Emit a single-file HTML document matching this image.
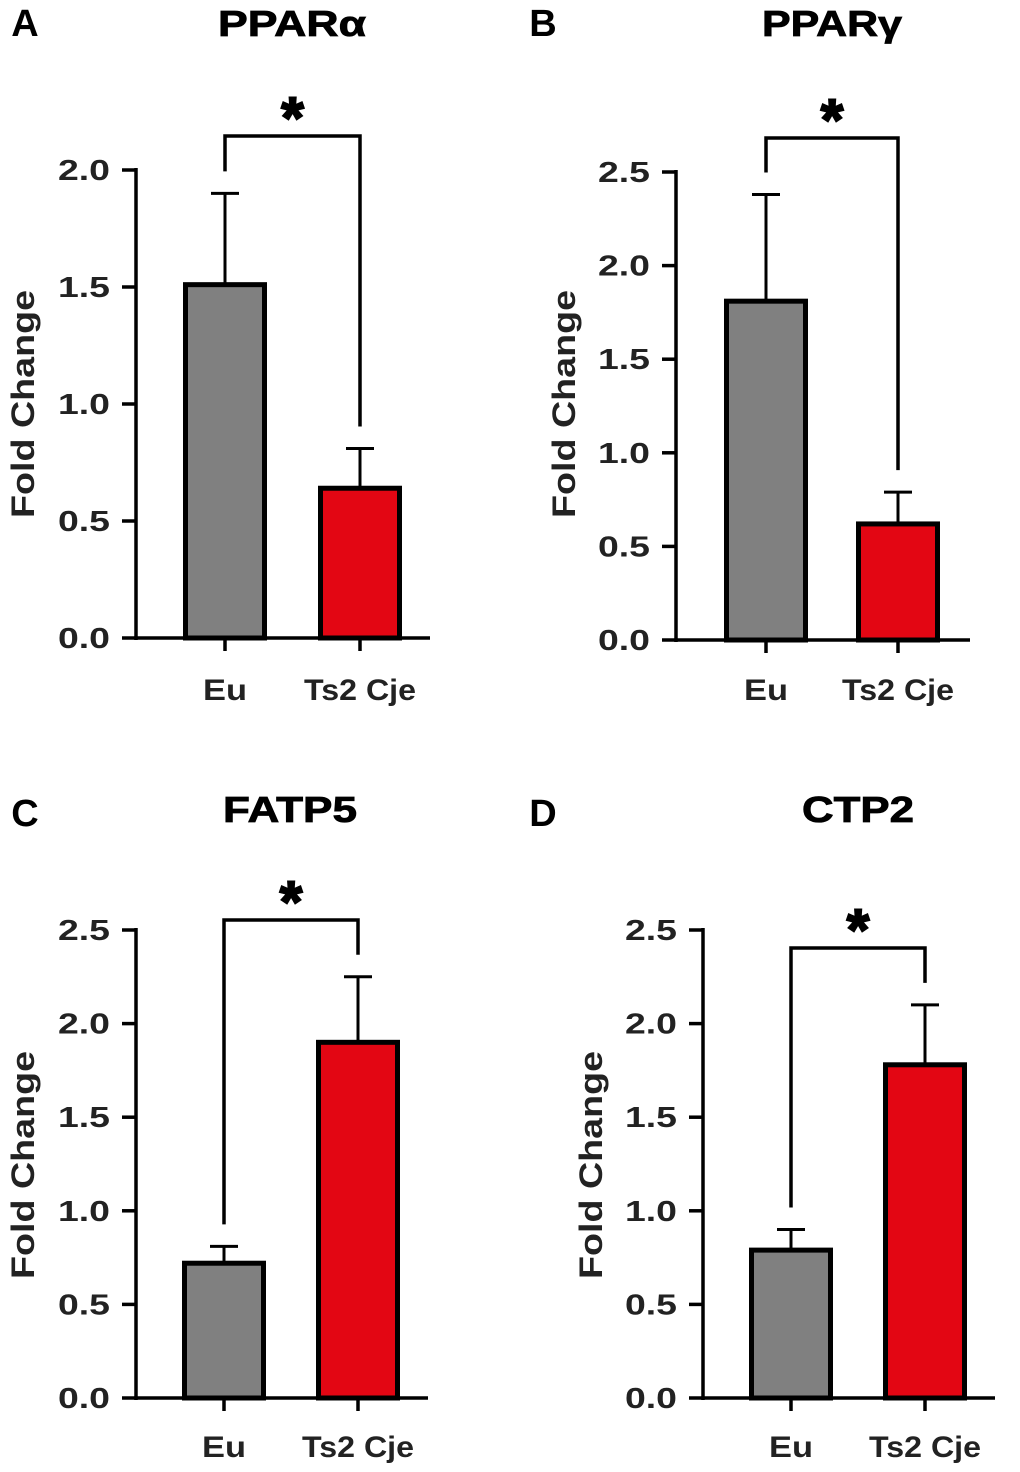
<!DOCTYPE html>
<html><head><meta charset="utf-8">
<style>
html,body{margin:0;padding:0;background:#fff;}
svg{display:block;font-family:"Liberation Sans",Arial,sans-serif;}
</style></head>
<body>
<svg id="fig" width="1020" height="1472" viewBox="0 0 1020 1472"></svg>
<script>
const categories = ["Eu", "Ts2Cje"];
const panelTitles = ["PPARα", "PPARγ", "FATP5", "CTP2"];
const panelLetters = ["A", "B", "C", "D"];
const meanValues = [[1.51, 0.64], [1.81, 0.62], [0.72, 1.90], [0.79, 1.78]];
const errorValues = [[0.39, 0.17], [0.57, 0.17], [0.09, 0.35], [0.11, 0.32]];
const yMaxValues = [2.0, 2.5, 2.5, 2.5];
const tickLabels = [["0.0","0.5","1.0","1.5","2.0"],["0.0","0.5","1.0","1.5","2.0","2.5"],["0.0","0.5","1.0","1.5","2.0","2.5"],["0.0","0.5","1.0","1.5","2.0","2.5"]];
const significance = ["*", "*", "*", "*"];

const layout = [
 {ax:136, y0:638, yTop:170, xEnd:430, c:[225,360], bw:84, bracketY:136, lx:22, ly:404, letterX:25, letterY:36, titleX:292, titleY:36, catY:700, titleW:148},
 {ax:676, y0:640, yTop:172, xEnd:970, c:[766,898], bw:84, bracketY:138, lx:563, ly:404, letterX:543, letterY:36, titleX:832, titleY:36, catY:700, titleW:140},
 {ax:136, y0:1398, yTop:930, xEnd:428, c:[224,358], bw:84, bracketY:920, lx:22, ly:1165, letterX:25, letterY:826, titleX:290, titleY:822, catY:1457, titleW:134},
 {ax:703, y0:1398, yTop:930, xEnd:995, c:[791,925], bw:84, bracketY:948, lx:590, ly:1165, letterX:543, letterY:826, titleX:858, titleY:822, catY:1457, titleW:112}
];
const fills = ["#808080", "#e30613"];
const NS = "http://www.w3.org/2000/svg";
const svg = document.getElementById("fig");
function mk(tag, attrs, parent){const e=document.createElementNS(NS,tag);for(const k in attrs)e.setAttribute(k,attrs[k]);(parent||svg).appendChild(e);return e;}

layout.forEach((L, p) => {
  const g = mk("g", {});
  
  
  const y = v => L.y0 - (v / yMaxValues[p]) * (L.y0 - L.yTop);

  const letter = mk("text", {x:L.letterX, y:L.letterY, "font-size":38, "font-weight":"bold", "text-anchor":"middle"}, g);
  letter.textContent = panelLetters[p];
  
  
  const title = mk("text", {x:L.titleX, y:L.titleY, "font-size":36, "font-weight":"bold", "text-anchor":"middle", textLength:L.titleW, lengthAdjust:"spacingAndGlyphs", stroke:"#000", "stroke-width":0.8}, g);
  title.textContent = panelTitles[p];
  
  

  const yax = mk("line", {x1:L.ax, y1:L.yTop-2, x2:L.ax, y2:L.y0+2, stroke:"#000", "stroke-width":3.5}, g);
  
  
  tickLabels[p].forEach(t => {
    const ty = y(parseFloat(t));
    const tk = mk("line", {x1:L.ax-14, y1:ty, x2:L.ax, y2:ty, stroke:"#000", "stroke-width":3.5}, g);
    
    
    const tl = mk("text", {x:L.ax-26, y:ty+10, "font-size":29, "font-weight":"bold", "text-anchor":"end", fill:"#222", textLength:52, lengthAdjust:"spacingAndGlyphs"}, g);
    tl.textContent = t;
    
    
  });
  const yl = mk("text", {x:0, y:0, "font-size":32, "font-weight":"bold", "text-anchor":"middle", fill:"#222", textLength:228, lengthAdjust:"spacingAndGlyphs", transform:`translate(${L.lx+12},${L.ly}) rotate(-90)`}, g);
  yl.textContent = "Fold Change";
  
  

  const xax = mk("line", {x1:L.ax-1.75, y1:L.y0, x2:L.xEnd, y2:L.y0, stroke:"#000", "stroke-width":3.5}, g);
  
  

  categories.forEach((c, i) => {
    const cx = L.c[i];
    const m = meanValues[p][i], e = errorValues[p][i];
    const eb = mk("line", {x1:cx, y1:y(m), x2:cx, y2:y(m+e), stroke:"#000", "stroke-width":3}, g);
    
    
    const cap = mk("line", {x1:cx-14, y1:y(m+e), x2:cx+14, y2:y(m+e), stroke:"#000", "stroke-width":3}, g);
    
    
    const bar = mk("rect", {x:cx-L.bw/2+2.5, y:y(m), width:L.bw-5, height:L.y0-y(m), fill:fills[i], stroke:"#000", "stroke-width":5}, g);
    
    
    const xt = mk("line", {x1:cx, y1:L.y0, x2:cx, y2:L.y0+13, stroke:"#000", "stroke-width":3.5}, g);
    
    
    const cl = mk("text", {x:cx, y:L.catY, "font-size":30, "font-weight":"bold", "text-anchor":"middle", fill:"#222", textLength:(i===0?44:112), lengthAdjust:"spacingAndGlyphs"}, g);
    cl.textContent = c === "Ts2Cje" ? "Ts2 Cje" : c;
    
    
  });

  const top0 = y(meanValues[p][0] + errorValues[p][0]) - 22;
  const top1 = y(meanValues[p][1] + errorValues[p][1]) - 22;
  const bracket = mk("path", {d:`M${L.c[0]},${Math.max(top0, L.bracketY+25)} L${L.c[0]},${L.bracketY} L${L.c[1]},${L.bracketY} L${L.c[1]},${Math.max(top1, L.bracketY+25)}`, fill:"none", stroke:"#000", "stroke-width":3.5}, g);
  
  
  const star = mk("text", {x:(L.c[0]+L.c[1])/2, y:L.bracketY+2, "font-size":58, "font-weight":"bold", "text-anchor":"middle", stroke:"#000", "stroke-width":2}, g);
  star.textContent = significance[p];
  
  
});
</script>
</body></html>
